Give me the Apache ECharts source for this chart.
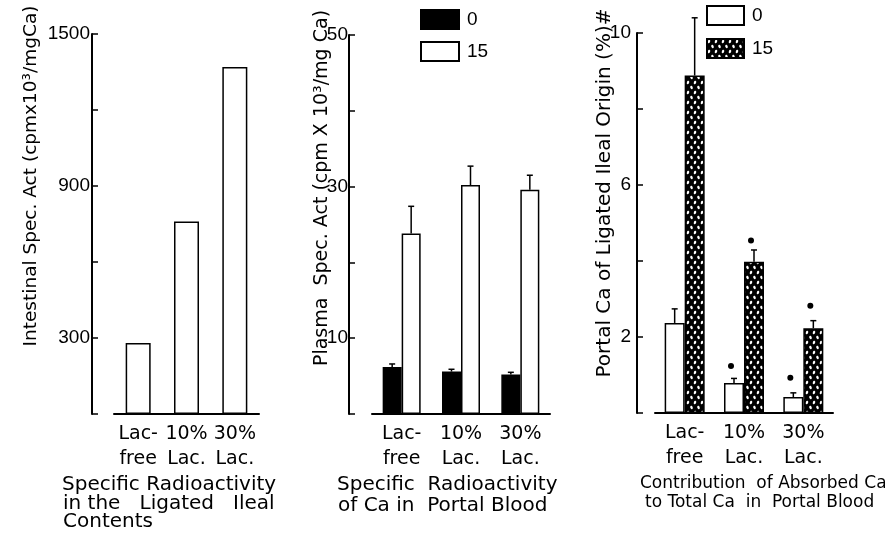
<!DOCTYPE html>
<html><head><meta charset="utf-8">
<script src="https://cdn.jsdelivr.net/npm/echarts@6/dist/echarts.min.js"></script>
<style>html,body{margin:0;padding:0;background:#fff}#c{width:885px;height:535px}</style>
</head><body><div id="c"></div>
<script>
// ---------- data ----------
const categories = ['Lac-\nfree', '10%\nLac.', '30%\nLac.'];
const legendNames = ['0', '15'];
const ileumValues = [280, 760, 1370];
const plasmaZero = [6.2, 5.6, 5.2];
const plasmaZeroErr = [0.4, 0.3, 0.3];
const plasmaFifteen = [23.8, 30.2, 29.6];
const plasmaFifteenErr = [3.6, 2.5, 1.9];
const portalZero = [2.37, 0.79, 0.42];
const portalZeroErr = [0.37, 0.12, 0.11];
const portalFifteen = [8.88, 3.98, 2.23];
const portalFifteenErr = [1.52, 0.31, 0.2];
const portalZeroSig = [null, 1.24, 0.93];
const portalFifteenSig = [null, 4.54, 2.82];
const ileumTicks = [300, 900, 1500];
const plasmaTicks = [10, 30, 50];
const portalTicks = [2, 6, 10];
const yNames = ['Intestinal Spec. Act (cpmx10³/mgCa)', 'Plasma  Spec. Act (cpm X 10³/mg Ca)', 'Portal Ca of Ligated Ileal Origin (%)#'];

// ---------- styling ----------
const TXT = 'DejaVu Sans';
const NUM = 'Liberation Sans';

function makePattern() {
  const c = document.createElement('canvas');
  c.width = 7; c.height = 10;
  const g = c.getContext('2d');
  g.fillStyle = '#000'; g.fillRect(0, 0, 7, 10);
  g.fillStyle = '#fff';
  g.beginPath(); g.ellipse(2, 2.5, 1.2, 1.8, 0.3, 0, Math.PI * 2); g.fill();
  g.beginPath(); g.ellipse(5.5, 7.5, 1.2, 1.8, -0.3, 0, Math.PI * 2); g.fill();
  return c;
}
const pattern = { image: makePattern(), repeat: 'repeat' };

function yAxis(gi, max, interval, offset, labels, margin) {
  return {
    type: 'value', gridIndex: gi, min: 0, max: max, interval: interval, offset: offset,
    axisLine: { show: true, lineStyle: { color: '#000', width: 2 } },
    axisTick: { show: true, inside: true, length: 6, lineStyle: { color: '#000', width: 1.5 } },
    axisLabel: { margin: margin, color: '#000', fontFamily: NUM, fontSize: 19,
      formatter: v => labels.includes(v) ? String(v) : '' },
    splitLine: { show: false }
  };
}
function xAxis(gi) {
  return {
    type: 'category', gridIndex: gi, data: categories,
    axisLine: { show: true, lineStyle: { color: '#000', width: 2 } },
    axisTick: { show: false },
    axisLabel: { interval: 0, margin: 8, color: '#000', fontFamily: TXT, fontSize: 19, lineHeight: 25 }
  };
}
function errSeries(ai, vals, errs, side, barW) {
  return {
    type: 'custom', xAxisIndex: ai, yAxisIndex: ai, clip: false, silent: true, z: 5,
    data: vals.map((v, i) => [i, v, v + errs[i]]),
    renderItem(params, api) {
      const base = api.coord([api.value(0), api.value(1)]);
      const top = api.coord([api.value(0), api.value(2)]);
      const x = base[0] + side * barW / 2;
      return { type: 'group', children: [
        { type: 'line', shape: { x1: x, y1: base[1], x2: x, y2: top[1] }, style: { stroke: '#000', lineWidth: 1.5 } },
        { type: 'line', shape: { x1: x - 3, y1: top[1], x2: x + 3, y2: top[1] }, style: { stroke: '#000', lineWidth: 1.5 } }
      ] };
    }
  };
}
function dotSeries(ai, vals, side, barW) {
  return {
    type: 'custom', xAxisIndex: ai, yAxisIndex: ai, clip: false, silent: true, z: 5,
    data: vals.map((v, i) => [i, v]).filter(d => d[1] !== null),
    renderItem(params, api) {
      const p = api.coord([api.value(0), api.value(1)]);
      return { type: 'circle', shape: { cx: p[0] + side * barW / 2 - 3, cy: p[1], r: 3 }, style: { fill: '#000' } };
    }
  };
}
const whiteBar = { color: '#fff', borderColor: '#000', borderWidth: 1.5 };

function txt(x, y, text, size, extra) {
  return Object.assign({ type: 'text', x: x, y: y, silent: true,
    style: { text: text, fill: '#000', font: size + 'px "' + TXT + '"', textVerticalAlign: 'top' } }, extra || {});
}
function vtxt(x, y, text, size) {
  return { type: 'text', x: x, y: y, rotation: Math.PI / 2, silent: true,
    style: { text: text, fill: '#000', font: size + 'px "' + TXT + '"', textAlign: 'center', textVerticalAlign: 'middle' } };
}

const chart = echarts.init(document.getElementById('c'), null, { renderer: 'canvas' });
chart.setOption({
  animation: false,
  backgroundColor: '#fff',
  grid: [
    { left: 114, width: 145, top: 34, height: 380 },
    { left: 372, width: 178, top: 35, height: 379 },
    { left: 655, width: 178, top: 33, height: 380 }
  ],
  xAxis: [xAxis(0), xAxis(1), xAxis(2)],
  yAxis: [
    yAxis(0, 1500, 300, 22, ileumTicks, 2),
    yAxis(1, 50, 10, 23, plasmaTicks, 1),
    yAxis(2, 10, 2, 18, portalTicks, 6)
  ],
  legend: [
    { data: ['plasma-0', 'plasma-15'], left: 420, top: 9, padding: 0, orient: 'vertical', icon: 'rect',
      itemWidth: 38, itemHeight: 19, itemGap: 11, selectedMode: false,
      formatter: n => n.split('-')[1], textStyle: { fontFamily: NUM, fontSize: 19, color: '#000', padding: [0, 0, 0, 3] } },
    { data: ['portal-0', 'portal-15'], left: 706, top: 5, padding: 0, orient: 'vertical', icon: 'rect',
      itemWidth: 37, itemHeight: 19, itemGap: 12, selectedMode: false,
      formatter: n => n.split('-')[1], textStyle: { fontFamily: NUM, fontSize: 19, color: '#000', padding: [0, 0, 0, 3] } }
  ],
  series: [
    { type: 'bar', name: 'ileum', xAxisIndex: 0, yAxisIndex: 0, barWidth: 25, data: ileumValues, itemStyle: whiteBar },
    { type: 'bar', name: 'plasma-' + legendNames[0], xAxisIndex: 1, yAxisIndex: 1, barWidth: 19, barGap: '0%', data: plasmaZero,
      itemStyle: { color: '#000', borderColor: '#000', borderWidth: 1.5 } },
    { type: 'bar', name: 'plasma-' + legendNames[1], xAxisIndex: 1, yAxisIndex: 1, barWidth: 19, barGap: '0%', data: plasmaFifteen, itemStyle: whiteBar },
    errSeries(1, plasmaZero, plasmaZeroErr, -1, 19),
    errSeries(1, plasmaFifteen, plasmaFifteenErr, 1, 19),
    { type: 'bar', name: 'portal-' + legendNames[0], xAxisIndex: 2, yAxisIndex: 2, barWidth: 20, barGap: '0%', data: portalZero, itemStyle: whiteBar },
    { type: 'bar', name: 'portal-' + legendNames[1], xAxisIndex: 2, yAxisIndex: 2, barWidth: 20, barGap: '0%', data: portalFifteen,
      itemStyle: { color: pattern, borderColor: '#000', borderWidth: 1.5 } },
    errSeries(2, portalZero, portalZeroErr, -1, 20),
    errSeries(2, portalFifteen, portalFifteenErr, 1, 20),
    dotSeries(2, portalZeroSig, -1, 20),
    dotSeries(2, portalFifteenSig, 1, 20)
  ],
  graphic: [
    vtxt(31, 176, yNames[0], 18.5),
    vtxt(322, 188, yNames[1], 19),
    vtxt(605, 193, yNames[2], 20),
    txt(62, 475, 'Specific Radioactivity', 20),
    txt(63, 494, 'in the   Ligated   Ileal', 20),
    txt(63, 512, 'Contents', 20),
    txt(337, 475, 'Specific  Radioactivity', 20),
    txt(338, 496, 'of Ca in  Portal Blood', 20),
    txt(640, 475, 'Contribution  of Absorbed Ca', 17),
    txt(645, 494, 'to Total Ca  in  Portal Blood', 17)
  ]
});
</script>
</body></html>
